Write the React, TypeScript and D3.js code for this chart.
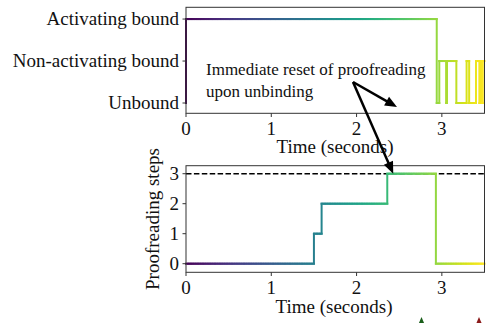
import React from "react";
import * as d3 from "d3";

// ---- data ----
const tMax = 3.5;
// binding state events: [time, new state] ; 0 = Unbound, 1 = Non-activating, 2 = Activating
const stateInitial = 0;
const stateTimes = [0.0, 2.94, 2.97, 3.05, 3.06, 3.17, 3.29, 3.32, 3.4, 3.44, 3.45, 3.47, 3.48];
const stateValues = [2, 0, 1, 0, 1, 0, 1, 0, 1, 0, 1, 0, 1];
const stateLabels = ["Unbound", "Non-activating bound", "Activating bound"];

// proofreading steps events
const proofInitial = 0;
const proofTimes = [1.5, 1.59, 2.36, 2.93];
const proofValues = [1, 2, 3, 0];
const proofThreshold = 3;
const proofTicks = [0, 1, 2, 3];
const timeTicks = [0, 1, 2, 3];

const W = 490;
const H = 323;
const FONT = "'Liberation Serif', 'Times New Roman', serif";

type Seg = { x1: number; y1: number; x2: number; y2: number; t: number };

function stepSegments(init: number, times: number[], vals: number[], end: number): Seg[] {
  const segs: Seg[] = [];
  let cur = init;
  let tPrev = 0;
  const pushH = (a: number, b: number, v: number) => {
    const n = Math.max(1, Math.ceil((b - a) / 0.02));
    for (let i = 0; i < n; i++) {
      const s = a + ((b - a) * i) / n;
      const e = a + ((b - a) * (i + 1)) / n;
      segs.push({ x1: s, y1: v, x2: e, y2: v, t: (s + e) / 2 });
    }
  };
  times.forEach((t, i) => {
    if (t > tPrev) pushH(tPrev, t, cur);
    segs.push({ x1: t, y1: cur, x2: t, y2: vals[i], t });
    cur = vals[i];
    tPrev = t;
  });
  if (end > tPrev) pushH(tPrev, end, cur);
  return segs;
}

export default function App() {
  const x = d3.scaleLinear().domain([0, tMax]).range([186, 484.5]);
  const yTop = d3.scaleLinear().domain([-0.245, 2.28]).range([113.3, 7.3]);
  const yBot = d3.scaleLinear().domain([-0.287, 3.267]).range([272.3, 165.7]);
  const color = (t: number) => d3.interpolateViridis(t / tMax);

  const topSegs = stepSegments(stateInitial, stateTimes, stateValues, tMax);
  const botSegs = stepSegments(proofInitial, proofTimes, proofValues, tMax);

  const frameColor = "#333";
  const fs = 19;

  const drawFrame = (y: d3.ScaleLinear<number, number>) => {
    const [x0, x1] = x.range();
    const [y0, y1] = y.range();
    return (
      <rect x={x0} y={y1} width={x1 - x0} height={y0 - y1} fill="none" stroke={frameColor} strokeWidth={1} />
    );
  };

  const arrowOrigin = { x: 353, y: 82 };
  const arrowTip1 = { x: 397, y: 107 };
  const arrowTip2 = { x: x(2.43), y: yBot(3) };

  const arrowHead = (from: { x: number; y: number }, to: { x: number; y: number }) => {
    const ang = Math.atan2(to.y - from.y, to.x - from.x);
    const L = 12, Wd = 5;
    const bx = to.x - L * Math.cos(ang);
    const by = to.y - L * Math.sin(ang);
    const px = -Math.sin(ang) * Wd;
    const py = Math.cos(ang) * Wd;
    return `M${to.x},${to.y}L${bx + px},${by + py}L${bx - px},${by - py}Z`;
  };
  const shaftEnd = (from: { x: number; y: number }, to: { x: number; y: number }) => {
    const ang = Math.atan2(to.y - from.y, to.x - from.x);
    return { x: to.x - 8 * Math.cos(ang), y: to.y - 8 * Math.sin(ang) };
  };
  const s1 = shaftEnd(arrowOrigin, arrowTip1);
  const s2 = shaftEnd(arrowOrigin, arrowTip2);

  return (
    <svg width={W} height={H} style={{ position: "absolute", left: 0, top: 0, background: "#fff" }} fontFamily={FONT}>
      <rect x={0} y={0} width={W} height={H} fill="#fff" />
      {/* ---- top panel ---- */}
      <g>
        {topSegs.map((s, i) => (
          <line key={i} x1={x(s.x1)} y1={yTop(s.y1)} x2={x(s.x2)} y2={yTop(s.y2)}
            stroke={color(s.t)} strokeWidth={2} strokeLinecap="square" />
        ))}
        {drawFrame(yTop)}
        {timeTicks.map((t) => (
          <g key={t}>
            <line x1={x(t)} x2={x(t)} y1={113.3} y2={117} stroke={frameColor} />
            <text x={x(t)} y={134.5} fontSize={fs} textAnchor="middle" fill="#111">{t}</text>
          </g>
        ))}
        {stateLabels.map((lab, i) => (
          <g key={lab}>
            <line x1={182.5} x2={186} y1={yTop(i)} y2={yTop(i)} stroke={frameColor} />
            <text x={179} y={yTop(i)} dy="0.33em" fontSize={fs} textAnchor="end" fill="#111">{lab}</text>
          </g>
        ))}
        <text x={335} y={153} fontSize={fs} textAnchor="middle" fill="#111">Time (seconds)</text>
      </g>

      {/* ---- bottom panel ---- */}
      <g>
        <line x1={x(0)} x2={x(tMax)} y1={yBot(proofThreshold)} y2={yBot(proofThreshold)}
          stroke="#000" strokeWidth={1.5} strokeDasharray="5.5,2.4" />
        {botSegs.map((s, i) => (
          <line key={i} x1={x(s.x1)} y1={yBot(s.y1)} x2={x(s.x2)} y2={yBot(s.y2)}
            stroke={color(s.t)} strokeWidth={2} strokeLinecap="square" />
        ))}
        {drawFrame(yBot)}
        {timeTicks.map((t) => (
          <g key={t}>
            <line x1={x(t)} x2={x(t)} y1={272.3} y2={276} stroke={frameColor} />
            <text x={x(t)} y={293.5} fontSize={fs} textAnchor="middle" fill="#111">{t}</text>
          </g>
        ))}
        {proofTicks.map((v) => (
          <g key={v}>
            <line x1={182.5} x2={186} y1={yBot(v)} y2={yBot(v)} stroke={frameColor} />
            <text x={179} y={yBot(v)} dy="0.33em" fontSize={fs} textAnchor="end" fill="#111">{v}</text>
          </g>
        ))}
        <text x={334} y={312.5} fontSize={fs} textAnchor="middle" fill="#111">Time (seconds)</text>
        <text transform={`translate(159,${(165.7 + 272.3) / 2}) rotate(-90)`} fontSize={fs} textAnchor="middle" fill="#111">
          Proofreading steps
        </text>
      </g>

      {/* ---- annotation ---- */}
      <text x={206} y={74.5} fontSize={17} fill="#111">Immediate reset of proofreading</text>
      <text x={206} y={97} fontSize={17} fill="#111">upon unbinding</text>
      <line x1={arrowOrigin.x} y1={arrowOrigin.y} x2={s1.x} y2={s1.y} stroke="#000" strokeWidth={2.5} />
      <path d={arrowHead(arrowOrigin, arrowTip1)} fill="#000" />
      <line x1={arrowOrigin.x} y1={arrowOrigin.y} x2={s2.x} y2={s2.y} stroke="#000" strokeWidth={2.5} />
      <path d={arrowHead(arrowOrigin, arrowTip2)} fill="#000" />

      {/* partial markers at bottom edge */}
      <path d="M421.5,317L418.5,324L424.5,324Z" fill="#1a5e1a" />
      <path d="M479,317L476,324L482,324Z" fill="#8b1a1a" />
    </svg>
  );
}
